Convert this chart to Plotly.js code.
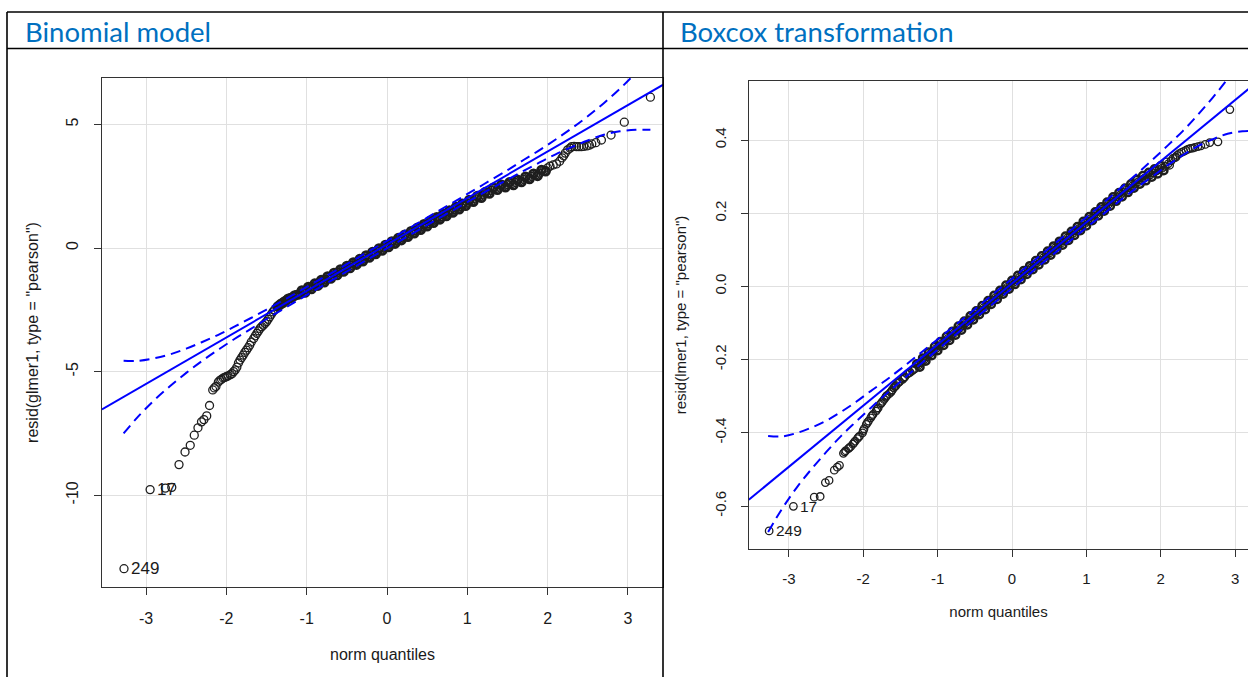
<!DOCTYPE html>
<html>
<head>
<meta charset="utf-8">
<script src="https://cdn.plot.ly/plotly-3.0.1.min.js"></script>
<style>
  html, body { margin: 0; padding: 0; background: #fff; }
  #chart { width: 1248px; height: 677px; }
</style>
</head>
<body>
<div id="chart"></div>
<script>
// ---------- DATA ----------
const panelTitles = ["Binomial model", "Boxcox transformation"];
const xTitle = "norm quantiles";
const yTitleLeft = 'resid(glmer1, type = "pearson")';
const yTitleRight = 'resid(lmer1, type = "pearson")';

const xTickVals = [-3, -2, -1, 0, 1, 2, 3];
const xTickText = ["-3", "-2", "-1", "0", "1", "2", "3"];
const yTickValsLeft = [-10, -5, 0, 5];
const yTickTextLeft = ["-10", "-5", "0", "5"];
const yTickValsRight = [-0.6, -0.4, -0.2, 0.0, 0.2, 0.4];
const yTickTextRight = ["-0.6", "-0.4", "-0.2", "0.0", "0.2", "0.4"];

// [norm quantile, pearson residual] - binomial model
const leftPoints = [
  [-3.275,-12.97],[-2.95,-9.77],[-2.76,-9.71],[-2.68,-9.68],[-2.59,-8.76],[-2.515,-8.25],
  [-2.45,-7.98],[-2.40,-7.57],[-2.354,-7.27],[-2.31,-7.03],[-2.28,-6.94],[-2.245,-6.79],
  [-2.21,-6.37],[-2.17,-5.74],[-2.15,-5.66],[-2.13,-5.60],[-2.10,-5.42],[-2.08,-5.35],
  [-2.06,-5.31],[-2.04,-5.26],[-2.02,-5.23],[-2.00,-5.20],[-1.98,-5.17],[-1.95,-5.12],
  [-1.93,-5.08],[-1.91,-5.00],[-1.89,-4.93],[-1.87,-4.82],[-1.85,-4.65],[-1.83,-4.53],
  [-1.81,-4.43],[-1.79,-4.33],[-1.77,-4.22],[-1.75,-4.13],[-1.73,-4.03],[-1.71,-3.93],
  [-1.69,-3.80],[-1.66,-3.66],[-1.64,-3.55],[-1.62,-3.45],[-1.60,-3.35],[-1.58,-3.25],
  [-1.56,-3.18],[-1.54,-3.12],[-1.52,-3.05],[-1.50,-2.98],[-1.48,-2.88],[-1.46,-2.78],
  [-1.44,-2.68],[-1.42,-2.58],[-1.40,-2.50],[-1.37,-2.38],[-1.34,-2.31],[-1.31,-2.24],
  [-1.28,-2.17],[-1.25,-2.10],[-1.21,-2.03],[-1.17,-1.97],[-1.13,-1.90],[-1.08,-1.83],
  [-1.04,-1.76],[-1.00,-1.69],[-0.96,-1.62],[-0.92,-1.55],[-0.88,-1.48],[-0.84,-1.41],
  [-0.80,-1.34],[-0.76,-1.27],[-0.72,-1.19],[-0.68,-1.12],[-0.64,-1.05],[-0.60,-0.98],
  [-0.56,-0.91],[-0.52,-0.84],[-0.48,-0.77],[-0.44,-0.70],[-0.40,-0.63],[-0.36,-0.56],
  [-0.32,-0.49],[-0.28,-0.42],[-0.24,-0.34],[-0.20,-0.27],[-0.16,-0.20],[-0.12,-0.13],
  [-0.08,-0.06],[-0.04,0.01],[0.00,0.08],[0.04,0.15],[0.08,0.22],[0.12,0.29],
  [0.16,0.36],[0.20,0.43],[0.24,0.50],[0.28,0.57],[0.32,0.64],[0.36,0.71],
  [0.40,0.78],[0.44,0.85],[0.48,0.92],[0.52,0.99],[0.56,1.06],[0.60,1.13],
  [0.64,1.20],[0.68,1.27],[0.72,1.34],[0.76,1.41],[0.80,1.48],[0.84,1.55],
  [0.88,1.61],[0.92,1.68],[0.96,1.75],[1.00,1.82],[1.05,1.91],[1.10,1.99],
  [1.15,2.07],[1.20,2.15],[1.25,2.23],[1.30,2.33],[1.35,2.40],[1.40,2.46],
  [1.45,2.51],[1.50,2.56],[1.55,2.60],[1.60,2.65],[1.65,2.71],[1.70,2.78],
  [1.75,2.84],[1.80,2.90],[1.85,2.96],[1.90,3.03],[1.95,3.13],[2.00,3.24],
  [2.03,3.31],[2.07,3.36],[2.11,3.40],[2.15,3.51],[2.18,3.65],[2.20,3.73],
  [2.22,3.84],[2.25,3.97],[2.28,4.04],[2.30,4.10],[2.33,4.11],[2.36,4.10],
  [2.39,4.10],[2.42,4.10],[2.45,4.11],[2.49,4.13],[2.52,4.16],[2.55,4.21],
  [2.60,4.26],[2.67,4.37],[2.79,4.57],[2.955,5.09],[3.28,6.10]
];
// further, heavily overlapping observations in the dense middle of the band
const leftPointsDense = [
  [-1.355,-2.35],[-1.325,-2.27],[-1.295,-2.21],[-1.265,-2.14],[-1.23,-2.05],[-1.19,-2.01],
  [-1.15,-1.92],[-1.105,-1.88],
  [-1.06,-1.72],[-1.02,-1.80],[-0.98,-1.58],[-0.94,-1.66],[-0.90,-1.44],[-0.86,-1.52],
  [-0.82,-1.30],[-0.78,-1.38],[-0.74,-1.155],[-0.70,-1.23],[-0.66,-1.01],[-0.62,-1.09],
  [-0.58,-0.87],[-0.54,-0.95],[-0.50,-0.73],[-0.46,-0.81],[-0.42,-0.59],[-0.38,-0.67],
  [-0.34,-0.45],[-0.30,-0.53],[-0.26,-0.305],[-0.22,-0.38],[-0.18,-0.16],[-0.14,-0.24],
  [-0.10,-0.02],[-0.06,-0.10],[-0.02,0.12],[0.02,0.04],[0.06,0.26],[0.10,0.18],
  [0.14,0.40],[0.18,0.32],[0.22,0.54],[0.26,0.46],[0.30,0.68],[0.34,0.60],
  [0.38,0.82],[0.42,0.74],[0.46,0.96],[0.50,0.88],[0.54,1.10],[0.58,1.02],
  [0.62,1.24],[0.66,1.16],[0.70,1.38],[0.74,1.30],[0.78,1.52],[0.82,1.44],
  [0.86,1.655],[0.90,1.57],[0.94,1.79],[0.98,1.71],
  [1.025,1.94],[1.075,1.875],[1.125,2.105],[1.175,2.035],[1.225,2.265],[1.275,2.205],
  [1.325,2.44],[1.375,2.355],[1.425,2.56],[1.475,2.46],[1.525,2.655],[1.575,2.55],
  [1.625,2.755],[1.675,2.67],[1.725,2.885],[1.775,2.795],[1.825,3.005],[1.875,2.92],
  [1.925,3.155],[1.975,3.11]
];

// [norm quantile, pearson residual] - boxcox transformation
const rightPoints = [
  [-3.266,-0.668],[-2.94,-0.601],[-2.66,-0.576],[-2.58,-0.574],[-2.51,-0.536],[-2.46,-0.530],
  [-2.39,-0.502],[-2.35,-0.494],[-2.32,-0.489],[-2.267,-0.456],[-2.235,-0.449],[-2.20,-0.443],
  [-2.17,-0.438],[-2.14,-0.431],[-2.11,-0.423],[-2.08,-0.416],[-2.05,-0.409],[-2.01,-0.400],
  [-1.99,-0.389],[-1.96,-0.377],[-1.93,-0.368],[-1.90,-0.359],[-1.87,-0.350],[-1.83,-0.341],
  [-1.80,-0.332],[-1.77,-0.322],[-1.74,-0.314],[-1.72,-0.309],[-1.70,-0.303],[-1.68,-0.298],
  [-1.65,-0.293],[-1.63,-0.289],[-1.61,-0.283],[-1.59,-0.277],[-1.56,-0.271],[-1.54,-0.265],
  [-1.51,-0.260],[-1.47,-0.254],[-1.44,-0.247],[-1.41,-0.240],[-1.37,-0.235],[-1.34,-0.230],
  [-1.30,-0.224],[-1.26,-0.216],[-1.22,-0.208],[-1.18,-0.200],[-1.14,-0.192],[-1.10,-0.184],
  [-1.06,-0.177],[-1.02,-0.170],[-0.98,-0.163],[-0.94,-0.156],[-0.90,-0.149],[-0.86,-0.142],
  [-0.82,-0.135],[-0.78,-0.128],[-0.74,-0.121],[-0.70,-0.114],[-0.66,-0.107],[-0.62,-0.100],
  [-0.58,-0.093],[-0.54,-0.086],[-0.50,-0.079],[-0.46,-0.072],[-0.42,-0.065],[-0.38,-0.058],
  [-0.34,-0.051],[-0.30,-0.044],[-0.26,-0.037],[-0.22,-0.030],[-0.18,-0.023],[-0.14,-0.016],
  [-0.10,-0.009],[-0.06,-0.002],[-0.02,0.005],[0.02,0.011],[0.06,0.018],[0.10,0.025],
  [0.14,0.031],[0.18,0.038],[0.22,0.045],[0.26,0.051],[0.30,0.058],[0.34,0.065],
  [0.38,0.071],[0.42,0.078],[0.46,0.085],[0.50,0.091],[0.54,0.098],[0.58,0.105],
  [0.62,0.112],[0.66,0.118],[0.70,0.125],[0.74,0.132],[0.78,0.138],[0.82,0.145],
  [0.86,0.152],[0.90,0.158],[0.94,0.165],[0.98,0.172],[1.02,0.178],[1.06,0.185],
  [1.10,0.192],[1.14,0.198],[1.18,0.205],[1.22,0.212],[1.26,0.218],[1.30,0.225],
  [1.34,0.232],[1.38,0.239],[1.42,0.245],[1.46,0.251],[1.50,0.257],[1.54,0.263],
  [1.58,0.269],[1.62,0.275],[1.66,0.281],[1.70,0.286],[1.74,0.291],[1.78,0.296],
  [1.82,0.300],[1.86,0.305],[1.90,0.310],[1.94,0.315],[1.98,0.319],[2.02,0.323],
  [2.06,0.328],[2.10,0.335],[2.14,0.343],[2.19,0.352],[2.22,0.358],[2.25,0.363],
  [2.28,0.366],[2.31,0.369],[2.34,0.372],[2.37,0.375],[2.40,0.377],[2.43,0.378],
  [2.46,0.380],[2.50,0.382],[2.54,0.384],[2.60,0.388],[2.66,0.393],[2.77,0.395],
  [2.93,0.483]
];
// further, heavily overlapping observations in the dense middle of the band
const rightPointsDense = [
  [-1.28,-0.212],[-1.24,-0.220],[-1.20,-0.196],[-1.16,-0.204],[-1.12,-0.180],[-1.08,-0.189],
  [-1.04,-0.165],[-1.00,-0.175],[-0.96,-0.151],[-0.92,-0.161],[-0.88,-0.137],[-0.84,-0.147],
  [-0.80,-0.123],[-0.76,-0.133],[-0.72,-0.109],[-0.68,-0.119],[-0.64,-0.095],[-0.60,-0.105],
  [-0.56,-0.081],[-0.52,-0.091],[-0.48,-0.067],[-0.44,-0.077],[-0.40,-0.053],[-0.36,-0.063],
  [-0.32,-0.039],[-0.28,-0.049],[-0.24,-0.025],[-0.20,-0.035],[-0.16,-0.011],[-0.12,-0.021],
  [-0.08,0.003],[-0.04,-0.007],[0.00,0.016],[0.04,0.006],[0.08,0.030],[0.12,0.019],
  [0.16,0.043],[0.20,0.033],[0.24,0.056],[0.28,0.046],[0.32,0.070],[0.36,0.059],
  [0.40,0.083],[0.44,0.073],[0.48,0.096],[0.52,0.086],[0.56,0.110],[0.60,0.100],
  [0.64,0.123],[0.68,0.113],[0.72,0.137],[0.76,0.126],[0.80,0.150],[0.84,0.140],
  [0.88,0.163],[0.92,0.153],[0.96,0.177],[1.00,0.166],[1.04,0.190],[1.08,0.180],
  [1.12,0.203],[1.16,0.193],[1.20,0.217],[1.24,0.206],[1.28,0.230],[1.32,0.220],
  [1.36,0.244],[1.40,0.233],[1.44,0.256],[1.48,0.245],[1.52,0.268],[1.56,0.257],
  [1.60,0.280],[1.64,0.269],[1.68,0.292],[1.72,0.280],[1.76,0.302],[1.80,0.289],
  [1.84,0.311],[1.88,0.299],[1.92,0.321],[1.96,0.308],[2.00,0.329],[2.04,0.317]
];
// partly overlapping observations at the start of the lower tail (boxcox)
const rightPointsTail = [
  [-2.25,-0.452],[-2.19,-0.441],[-2.125,-0.427],[-2.065,-0.412],[-2.00,-0.394],[-1.945,-0.372],
  [-1.885,-0.354],[-1.815,-0.336],[-1.755,-0.318],[-1.69,-0.300],[-1.62,-0.286],[-1.575,-0.274],
  [-1.525,-0.262],[-1.455,-0.250],[-1.39,-0.237],[-1.32,-0.227],
  [2.08,0.340],[2.12,0.331],[2.165,0.350],[2.205,0.353]
];

// labelled outliers: [quantile, residual, label]
const leftLabels = [[-3.275,-12.97,"249"],[-2.95,-9.77,"17"]];
const rightLabels = [[-3.266,-0.668,"249"],[-2.94,-0.601,"17"]];

// reference line (read at plot edges)
const leftLineQ = [-3.55, 3.44];
const leftLineR = [-6.53, 6.61];
const rightLineQ = [-3.54, 3.18];
const rightLineR = [-0.583, 0.539];

// confidence envelope
const envQ = [-3.28,-3.1,-2.9,-2.7,-2.5,-2.3,-2.1,-1.9,-1.7,-1.5,-1.2,-0.9,-0.6,-0.3,0,0.3,0.6,0.9,1.2,1.5,1.7,1.9,2.1,2.3,2.5,2.7,2.9,3.1,3.28];
const leftUpper = [-4.56,-4.56,-4.46,-4.30,-4.07,-3.80,-3.51,-3.18,-2.84,-2.49,-1.95,-1.39,-0.84,-0.27,0.29,0.85,1.42,1.99,2.57,3.15,3.56,3.96,4.39,4.84,5.33,5.86,6.44,7.10,7.78];
const leftLower = [-7.50,-6.82,-6.16,-5.58,-5.05,-4.56,-4.11,-3.68,-3.28,-2.87,-2.29,-1.71,-1.14,-0.57,-0.01,0.55,1.12,1.67,2.23,2.77,3.12,3.46,3.79,4.08,4.35,4.58,4.72,4.78,4.78];
const rightUpper = [-0.409,-0.410,-0.401,-0.386,-0.367,-0.343,-0.316,-0.286,-0.257,-0.226,-0.177,-0.128,-0.079,-0.029,0.021,0.071,0.121,0.172,0.223,0.276,0.311,0.348,0.386,0.425,0.469,0.516,0.567,0.626,0.687];
const rightLower = [-0.671,-0.610,-0.551,-0.500,-0.453,-0.409,-0.370,-0.332,-0.295,-0.260,-0.207,-0.156,-0.105,-0.055,-0.005,0.045,0.095,0.144,0.193,0.242,0.273,0.302,0.332,0.359,0.383,0.402,0.417,0.424,0.425];

// ---------- CHART ----------
const W = 1248, H = 677;
const px = v => v / W;
const py = v => 1 - v / H;
const BLUE = "#0000ff";
const DASH = "10px,6px";
const LABEL_FONT = "Liberation Sans, Arial, sans-serif";
const PT_COLOR = "#1e1e1e";

function markerTrace(points, xa, ya, msize, lw) {
  return { type: "scatter", mode: "markers", xaxis: xa, yaxis: ya,
    x: points.map(p => p[0]), y: points.map(p => p[1]),
    marker: { symbol: "circle-open", size: msize, color: PT_COLOR, line: { width: lw } },
    hoverinfo: "x+y" };
}
function lineTraces(lineQ, lineR, upper, lower, xa, ya) {
  return [
    { type: "scatter", mode: "lines", xaxis: xa, yaxis: ya, x: lineQ, y: lineR,
      line: { color: BLUE, width: 2 }, hoverinfo: "skip" },
    { type: "scatter", mode: "lines", xaxis: xa, yaxis: ya, x: envQ, y: upper,
      line: { color: BLUE, width: 2, dash: DASH, shape: "spline" }, hoverinfo: "skip" },
    { type: "scatter", mode: "lines", xaxis: xa, yaxis: ya, x: envQ, y: lower,
      line: { color: BLUE, width: 2, dash: DASH, shape: "spline" }, hoverinfo: "skip" }
  ];
}

const data = [
  markerTrace(leftPoints, "x", "y", 8, 1.3),
  markerTrace(leftPointsDense, "x", "y", 8, 2.6),
  markerTrace(rightPoints, "x2", "y2", 7.5, 1.3),
  markerTrace(rightPointsTail, "x2", "y2", 7.5, 1.3),
  markerTrace(rightPointsDense, "x2", "y2", 7.5, 2.5)
].concat(
  lineTraces(leftLineQ, leftLineR, leftUpper, leftLower, "x", "y"),
  lineTraces(rightLineQ, rightLineR, rightUpper, rightLower, "x2", "y2")
);

const axisCommon = {
  ticks: "outside", ticklen: 7, tickwidth: 1, tickcolor: "#333",
  showline: true, linecolor: "#333", linewidth: 1,
  showgrid: true, gridcolor: "#e0e0e0", gridwidth: 1, zeroline: false,
  tickfont: { family: LABEL_FONT, color: "#1a1a1a" },
  fixedrange: true
};

const labelAnnots = [];
leftLabels.forEach(l => labelAnnots.push({
  xref: "x", yref: "y", x: l[0], y: l[1], text: l[2], showarrow: false,
  xanchor: "left", yanchor: "middle", xshift: 5,
  font: { family: LABEL_FONT, size: 17, color: "#1a1a1a" } }));
rightLabels.forEach(l => labelAnnots.push({
  xref: "x2", yref: "y2", x: l[0], y: l[1], text: l[2], showarrow: false,
  xanchor: "left", yanchor: "middle", xshift: 5,
  font: { family: LABEL_FONT, size: 15.5, color: "#1a1a1a" } }));

const layout = {
  width: W, height: H,
  margin: { l: 0, r: 0, t: 0, b: 0 },
  paper_bgcolor: "#ffffff", plot_bgcolor: "#ffffff",
  showlegend: false,
  font: { family: LABEL_FONT, size: 16, color: "#1a1a1a" },
  xaxis: Object.assign({}, axisCommon, {
    domain: [px(102), px(663)], range: [-3.549, 3.437], anchor: "y",
    tickvals: xTickVals, ticktext: xTickText, mirror: true,
    tickfont: Object.assign({}, axisCommon.tickfont, { size: 16 }),
    ticklabelstandoff: 10,
    title: { text: xTitle, font: { size: 16 }, standoff: 22 }
  }),
  yaxis: Object.assign({}, axisCommon, {
    domain: [py(587), py(78)], range: [-13.71, 6.877], anchor: "x",
    tickvals: yTickValsLeft, ticktext: yTickTextLeft, tickangle: -90, mirror: true,
    tickfont: Object.assign({}, axisCommon.tickfont, { size: 16 }),
    ticklabelstandoff: 10,
    title: { text: yTitleLeft, font: { size: 16 }, standoff: 20 }
  }),
  xaxis2: Object.assign({}, axisCommon, {
    domain: [px(749), 1], range: [-3.537, 3.174], anchor: "y2",
    tickvals: xTickVals, ticktext: xTickText, mirror: true,
    tickfont: Object.assign({}, axisCommon.tickfont, { size: 15 }),
    ticklabelstandoff: 9,
    title: { text: xTitle, font: { size: 15 }, standoff: 20 }
  }),
  yaxis2: Object.assign({}, axisCommon, {
    domain: [py(549), py(81)], range: [-0.7175, 0.5612], anchor: "x2",
    tickvals: yTickValsRight, ticktext: yTickTextRight, tickangle: -90, mirror: false,
    tickfont: Object.assign({}, axisCommon.tickfont, { size: 15 }),
    ticklabelstandoff: 9,
    title: { text: yTitleRight, font: { size: 15 }, standoff: 21 }
  }),
  annotations: [
    { xref: "paper", yref: "paper", x: px(23), y: py(32), xanchor: "left", yanchor: "middle",
      text: panelTitles[0], showarrow: false,
      font: { family: "Lato, 'Open Sans', sans-serif", size: 27.5, color: "#0070c0" } },
    { xref: "paper", yref: "paper", x: px(678), y: py(32), xanchor: "left", yanchor: "middle",
      text: panelTitles[1], showarrow: false,
      font: { family: "Lato, 'Open Sans', sans-serif", size: 27.5, color: "#0070c0" } }
  ].concat(labelAnnots),
  shapes: [
    { type: "line", xref: "paper", yref: "paper", x0: px(7), x1: 1, y0: py(12), y1: py(12), line: { color: "#000", width: 1.6 } },
    { type: "line", xref: "paper", yref: "paper", x0: px(7), x1: 1, y0: py(48.5), y1: py(48.5), line: { color: "#000", width: 1.6 } },
    { type: "line", xref: "paper", yref: "paper", x0: px(7), x1: px(7), y0: 0, y1: py(12), line: { color: "#000", width: 1.6 } },
    { type: "line", xref: "paper", yref: "paper", x0: px(663), x1: px(663), y0: 0, y1: py(12), line: { color: "#000", width: 1.6 } }
  ]
};

Plotly.newPlot("chart", data, layout, { displayModeBar: false, staticPlot: true });
</script>
</body>
</html>
